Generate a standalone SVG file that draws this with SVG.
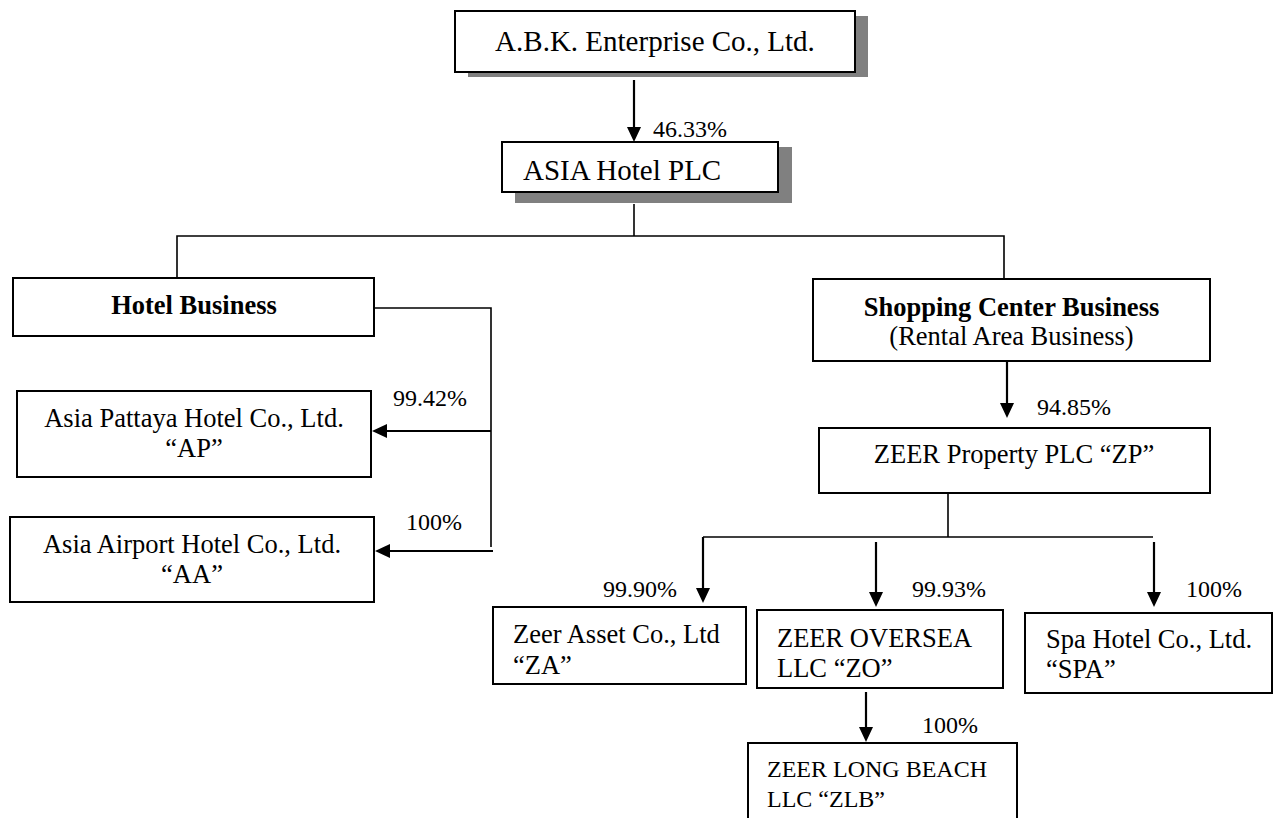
<svg xmlns="http://www.w3.org/2000/svg" width="1274" height="818" viewBox="0 0 1274 818">
<style>
  .box{fill:#fff;stroke:#000;stroke-width:2}
  .shadow{fill:#808080;stroke:none}
  .t{font-family:"Liberation Serif","Times New Roman",serif;fill:#000}
  .big{font-size:29px}
  .n{font-size:26.5px}
  .s{font-size:24px}
  .b{font-weight:bold}
  .pct{font-family:"Liberation Serif","Times New Roman",serif;font-size:24px;fill:#000}
  .tree{fill:none;stroke:#000;stroke-width:1.6}
  .arr{fill:none;stroke:#000;stroke-width:2.2;marker-end:url(#ah)}
</style>
<defs>
  <marker id="ah" markerUnits="userSpaceOnUse" markerWidth="16" markerHeight="14" refX="11" refY="7" orient="auto">
    <path d="M0,0 L15,7 L0,14 Z" fill="#000"/>
  </marker>
</defs>
<rect width="1274" height="818" fill="#fff"/>

<g id="connectors">
  <line class="arr" x1="634" y1="80" x2="634" y2="138"/>
  <polyline class="tree" points="634,204 634,236"/>
  <polyline class="tree" points="177,278 177,236 1004,236 1004,279"/>
  <polyline class="tree" points="374,308 491,308 491,547"/>
  <line class="arr" x1="491" y1="431" x2="376" y2="431"/>
  <line class="arr" x1="493" y1="551" x2="379" y2="551"/>
  <line class="arr" x1="1007" y1="362" x2="1007" y2="414"/>
  <polyline class="tree" points="948,493 948,537"/>
  <polyline class="tree" points="703,537 1153,537"/>
  <line class="arr" x1="703" y1="537" x2="703" y2="599"/>
  <line class="arr" x1="876" y1="542" x2="876" y2="603"/>
  <line class="arr" x1="1154" y1="542" x2="1154" y2="603"/>
  <line class="arr" x1="866" y1="692" x2="866" y2="738"/>
  <text class="pct" x="653" y="137">46.33%</text>
  <text class="pct" x="393" y="406">99.42%</text>
  <text class="pct" x="406" y="530">100%</text>
  <text class="pct" x="1037" y="415">94.85%</text>
  <text class="pct" x="603" y="597">99.90%</text>
  <text class="pct" x="912" y="597">99.93%</text>
  <text class="pct" x="1186" y="597">100%</text>
  <text class="pct" x="922" y="733">100%</text>
</g>

<g id="abk">
  <rect class="shadow" x="468" y="16" width="400" height="61"/>
  <rect class="box" x="455" y="11" width="400" height="61"/>
  <text class="t big" x="655" y="51" text-anchor="middle">A.B.K. Enterprise Co., Ltd.</text>
</g>

<g id="asia">
  <rect class="shadow" x="515" y="147" width="277" height="56"/>
  <rect class="box" x="502" y="142" width="276" height="50"/>
  <text class="t big" x="523" y="180">ASIA Hotel PLC</text>
</g>

<g id="hotel-business">
  <rect class="box" x="13" y="278" width="361" height="58"/>
  <text class="t n b" x="194" y="314" text-anchor="middle">Hotel Business</text>
</g>

<g id="asia-pattaya">
  <rect class="box" x="17" y="391" width="354" height="86"/>
  <text class="t n" x="194" y="427" text-anchor="middle">Asia Pattaya Hotel Co., Ltd.</text>
  <text class="t n" x="194" y="457" text-anchor="middle">“AP”</text>
</g>

<g id="asia-airport">
  <rect class="box" x="10" y="517" width="364" height="85"/>
  <text class="t n" x="192" y="553" text-anchor="middle">Asia Airport Hotel Co., Ltd.</text>
  <text class="t n" x="192" y="583" text-anchor="middle">“AA”</text>
</g>

<g id="shopping-center">
  <rect class="box" x="813" y="279" width="397" height="82"/>
  <text class="t n b" x="1011.5" y="316" text-anchor="middle">Shopping Center Business</text>
  <text class="t n" x="1011.5" y="345" text-anchor="middle">(Rental Area Business)</text>
</g>

<g id="zeer-property">
  <rect class="box" x="819" y="428" width="391" height="65"/>
  <text class="t n" x="1014" y="463" text-anchor="middle">ZEER Property PLC “ZP”</text>
</g>

<g id="zeer-asset">
  <rect class="box" x="493" y="607" width="253" height="77"/>
  <text class="t n" x="513" y="643">Zeer Asset Co., Ltd</text>
  <text class="t n" x="513" y="674">“ZA”</text>
</g>

<g id="zeer-oversea">
  <rect class="box" x="757" y="610" width="246" height="78"/>
  <text class="t n" x="777" y="647">ZEER OVERSEA</text>
  <text class="t n" x="777" y="677">LLC “ZO”</text>
</g>

<g id="spa-hotel">
  <rect class="box" x="1025" y="613" width="247" height="80"/>
  <text class="t n" x="1046" y="648">Spa Hotel Co., Ltd.</text>
  <text class="t n" x="1046" y="678">“SPA”</text>
</g>

<g id="zeer-long-beach">
  <rect class="box" x="748" y="743" width="269" height="80"/>
  <text class="t s" x="767" y="777">ZEER LONG BEACH</text>
  <text class="t s" x="767" y="807">LLC “ZLB”</text>
</g>
</svg>
